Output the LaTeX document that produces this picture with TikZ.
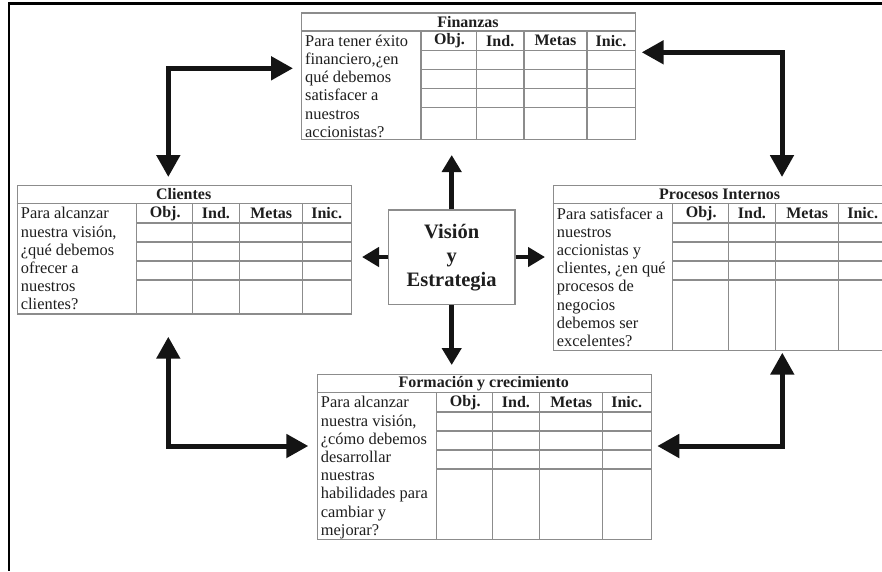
\documentclass[tikz,border=0pt]{standalone}
\usepackage{fontspec}
\setmainfont{Liberation Serif}
\usetikzlibrary{arrows.meta}
\definecolor{arrowc}{HTML}{141414}
\definecolor{gridc}{HTML}{8C8C8C}
\definecolor{txtc}{HTML}{1E1E1E}
\tikzset{
  tabframe/.style={draw=gridc, line width=1.4pt, inner sep=0pt, fill=white},
  tabline/.style={draw=gridc, line width=1.4pt},
  titletext/.style={font=\bfseries\fontsize{16}{18}\selectfont, text=txtc, inner sep=0pt},
  hdrtext/.style={font=\bfseries\fontsize{16}{18}\selectfont, text=txtc, inner sep=0pt},
  qtext/.style={font=\fontsize{16.4}{18.2}\selectfont, text=txtc, inner sep=0pt, align=left, anchor=north west},
  visbox/.style={draw=gridc, line width=1.4pt, fill=white, align=center, text=txtc,
    font=\bfseries\fontsize{20.5}{24}\selectfont, minimum width=126.7pt, minimum height=94.3pt},
  bigarrow/.style={line width=5pt, draw=arrowc,
    {Triangle[length=22pt,width=23pt]}-{Triangle[length=22pt,width=23pt]}},
  midarrow/.style={line width=4.7pt, draw=arrowc, -{Triangle[length=17pt,width=19pt]}},
}
% #1 name, #2 left, #3 top, #4 bottom, #5 title, #6 question
\newcommand\bsctab[6]{%
  \node[tabframe, anchor=north west, minimum width=334pt, minimum height={(#4-(#3))*1pt}] (#1) at (#2,#3) {};
  \draw[tabline] (#2,#3+18.5) -- (#2+334,#3+18.5);
  \foreach \dy in {38,57,76,95} \draw[tabline] (#2+120,#3+\dy) -- (#2+334,#3+\dy);
  \foreach \dx in {120,175.5,223,286} \draw[tabline] (#2+\dx,#3+18.5) -- (#2+\dx,#4);
  \node[titletext] (#1-title) at (#2+167,#3+9.5) {#5};
  \node[hdrtext] (#1-obj) at (#2+148.5,#3+28.5) {Obj.};
  \node[hdrtext] (#1-ind) at (#2+199.25,#3+28.5) {Ind.};
  \node[hdrtext] (#1-met) at (#2+254.5,#3+28.5) {Metas};
  \node[hdrtext] (#1-ini) at (#2+310,#3+28.5) {Inic.};
  \node[qtext] (#1-q) at (#2+4,#3+22.3) {#6};
}
\begin{document}
\begin{tikzpicture}[x=1pt,y=-1pt]
\clip (0,0) rectangle (882,571);
\fill[white] (0,0) rectangle (882,571);
% page border fragments
\draw[line width=2.3pt, draw=black] (882,3.5) -- (9,3.5) -- (9,571);

\bsctab{fin}{301}{12.3}{139}{Finanzas}{Para tener éxito\\financiero,¿en\\qué debemos\\satisfacer a\\nuestros\\accionistas?}
\bsctab{cli}{16.7}{185}{313.3}{Clientes}{Para alcanzar\\nuestra visión,\\¿qué debemos\\ofrecer a\\nuestros\\clientes?}
\bsctab{pro}{552.7}{185}{350}{Procesos Internos}{Para satisfacer a\\nuestros\\accionistas y\\clientes, ¿en qué\\procesos de\\negocios\\debemos ser\\excelentes?}
\bsctab{for}{316.7}{374}{539}{Formación y crecimiento}{Para alcanzar\\nuestra visión,\\¿cómo debemos\\desarrollar\\nuestras\\habilidades para\\cambiar y\\mejorar?}

\node[visbox] (vis) at (451.7,257.2) {Visión\\y\\Estrategia};

% central arrows
\coordinate (vup) at (451.7,155);
\coordinate (vdown) at (451.7,365);
\coordinate (vleft) at (362,257);
\coordinate (vright) at (545,257);
\draw[midarrow] (vis.north) -- (vup);
\draw[midarrow] (vis.south) -- (vdown);
\draw[midarrow] (vis.west |- vleft) -- (vleft);
\draw[midarrow] (vis.east |- vright) -- (vright);

% corner arrows
\coordinate (tla) at (168.3,177);
\coordinate (tlb) at (293,68.3);
\draw[bigarrow] (tla) |- (tlb);
\coordinate (tra) at (641.7,52.3);
\coordinate (trb) at (782,177);
\draw[bigarrow] (tra) -| (trb);
\coordinate (bla) at (168.3,336.7);
\coordinate (blb) at (308.3,446);
\draw[bigarrow] (bla) |- (blb);
\coordinate (bra) at (657.3,446);
\coordinate (brb) at (782.3,352.7);
\draw[bigarrow] (bra) -| (brb);
\end{tikzpicture}
\end{document}
